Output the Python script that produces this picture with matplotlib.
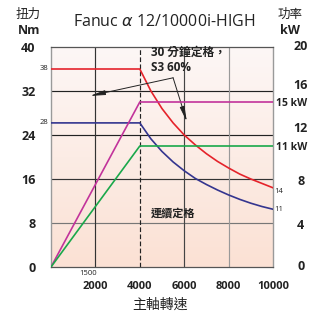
import numpy as np
import matplotlib
matplotlib.use("Agg")
import matplotlib.pyplot as plt
from matplotlib.colors import LinearSegmentedColormap

plt.rcParams['font.family'] = ['Open Sans', 'Noto Sans CJK TC', 'DejaVu Sans']

# ---- data ----
rpm = [0, 4000, 4500, 5000, 5500, 6000, 6500, 7000, 7500, 8000, 8500, 9000, 9500, 10000]
torque_s3 = [36, 36, 32.0, 28.8, 26.2, 24.0, 22.2, 20.6, 19.2, 18.0, 16.9, 16.0, 15.2, 14.4]
torque_cont = [26.2, 26.2, 23.3, 21.0, 19.1, 17.5, 16.1, 15.0, 14.0, 13.1, 12.3, 11.6, 11.0, 10.5]
power_rpm = [0, 4000, 10000]
power_s3 = [0, 15, 15]
power_cont = [0, 11, 11]

x_ticks = [2000, 4000, 6000, 8000, 10000]
x_labels = ['2000', '4000', '6000', '8000', '10000']
y_ticks = [0, 8, 16, 24, 32, 40]
y_labels = ['0', '8', '16', '24', '32', '40']

C_RED = '#e5232b'
C_BLUE = '#34358f'
C_MAG = '#c2339b'
C_GREEN = '#1aa84b'

fig = plt.figure(figsize=(3.09, 3.17), dpi=100)
ax = fig.add_axes([51/309, 50/317, 222/309, 220/317])
ax.set_xlim(0, 10000)
ax.set_ylim(0, 40)

# background gradient
cmap = LinearSegmentedColormap.from_list('bg', ['#fbe1d4', '#fdf7f6'])
grad = np.linspace(0, 1, 256).reshape(-1, 1)
ax.imshow(grad, extent=[0, 10000, 0, 40], aspect='auto', cmap=cmap, origin='lower', zorder=0)

# grid
for yv, col in [(8, '#777777'), (16, '#333333'), (24, '#222222'), (32, '#222222')]:
    ax.axhline(yv, color=col, lw=0.85, zorder=1)
for xv, col in [(2000, '#333333'), (6000, '#444444'), (8000, '#999999')]:
    ax.axvline(xv, color=col, lw=0.85, zorder=1)
ax.axvline(4000, color='#222222', lw=0.85, ls=(0, (4, 2)), zorder=1)

for s in ['left', 'right']:
    ax.spines[s].set_color('#9a9a9a')
    ax.spines[s].set_linewidth(1.0)
for s in ['top', 'bottom']:
    ax.spines[s].set_color('#555555')
    ax.spines[s].set_linewidth(0.9)

# curves
ax.plot(rpm, torque_s3, color=C_RED, lw=1.2, zorder=3)
ax.plot(rpm, torque_cont, color=C_BLUE, lw=1.2, zorder=3)
ax2 = ax.twinx()
ax2.set_ylim(0, 20)
ax2.plot(power_rpm, power_s3, color=C_MAG, lw=1.2, zorder=3)
ax2.plot(power_rpm, power_cont, color=C_GREEN, lw=1.2, zorder=3)
ax2.set_yticks([])
for s in ax2.spines.values():
    s.set_visible(False)

# ticks
ax.set_xticks(x_ticks)
ax.set_xticklabels(x_labels, fontsize=8, fontweight='bold', color='#222222')
ax.set_yticks(y_ticks)
ax.set_yticklabels(y_labels, fontsize=9, fontweight='bold', color='#222222')
ax.tick_params(axis='both', length=0, pad=11)
ax.tick_params(axis='x', pad=10)

# right side labels
rt = [(20, '20', 0), (16, '16', 4), (12, '12', 5), (8, '8', -2), (4, '4', -2), (0, '0', 0)]
for v, lab, dy in rt:
    ax2.annotate(lab, xy=(1, v), xycoords=('axes fraction', 'data'),
                 xytext=(20, dy), textcoords='offset points', ha='center', va='center',
                 fontsize=9, fontweight='bold', color='#222222')
ax2.annotate('15 kW', xy=(1, 15), xycoords=('axes fraction', 'data'), xytext=(2, -1),
             textcoords='offset points', ha='left', va='center', fontsize=7.5,
             fontweight='bold', color='#222222')
ax2.annotate('11 kW', xy=(1, 11), xycoords=('axes fraction', 'data'), xytext=(2, -1),
             textcoords='offset points', ha='left', va='center', fontsize=7.5,
             fontweight='bold', color='#222222')

# small value labels
small = dict(textcoords='offset points', fontsize=5.5, color='#222222', va='center')
ax.annotate('38', xy=(0, torque_s3[0]), xycoords=('axes fraction', 'data'), xytext=(-2, 0),
            ha='right', **small)
ax.annotate('28', xy=(0, torque_cont[0]), xycoords=('axes fraction', 'data'), xytext=(-2, 0),
            ha='right', **small)
ax.annotate('14', xy=(1, torque_s3[-1]), xycoords=('axes fraction', 'data'), xytext=(1, -3),
            ha='left', **small)
ax.annotate('11', xy=(1, torque_cont[-1]), xycoords=('axes fraction', 'data'), xytext=(1, 0),
            ha='left', **small)
ax.annotate('1500', xy=(1500, 0), xycoords='data', xytext=(3, -5), ha='center',
            annotation_clip=False, **small)

# annotations
ax.text(4500, 37.6, '30 分鐘定格，\nS3 60%', fontsize=8.5, fontweight='bold', color='#222222',
        ha='left', va='center', linespacing=1.2, zorder=5)
arrow_kw = dict(arrowstyle='-|>,head_length=0.9,head_width=0.14', color='#222222', lw=0.7,
                shrinkA=0, shrinkB=0)
ax.annotate('', xy=(1750, 31.1), xytext=(5500, 34.4), arrowprops=arrow_kw, zorder=5)
ax.annotate('', xy=(6120, 26.4), xytext=(5500, 34.4), arrowprops=arrow_kw, zorder=5)
ax.text(4500, 9.6, '連續定格', fontsize=8, fontweight='bold', color='#222222',
        ha='left', va='center', zorder=5)

# titles
fig.text(164/309, 1 - 22/317, 'Fanuc $\\alpha$ 12/10000i-HIGH', fontsize=11.5, ha='center',
         va='center', color='#222222')
fig.text(28/309, 1 - 14/317, '扭力', fontsize=9, ha='center', va='center', color='#222222')
fig.text(29/309, 1 - 30/317, 'Nm', fontsize=9, fontweight='bold', ha='center', va='center', color='#222222')
fig.text(290/309, 1 - 14/317, '功率', fontsize=9, ha='center', va='center', color='#222222')
fig.text(290/309, 1 - 30/317, 'kW', fontsize=9, fontweight='bold', ha='center', va='center', color='#222222')
fig.text(160/309, 1 - 305/317, '主軸轉速', fontsize=10, ha='center', va='center', color='#222222')

fig.savefig('out.png', dpi=100, facecolor='white')
